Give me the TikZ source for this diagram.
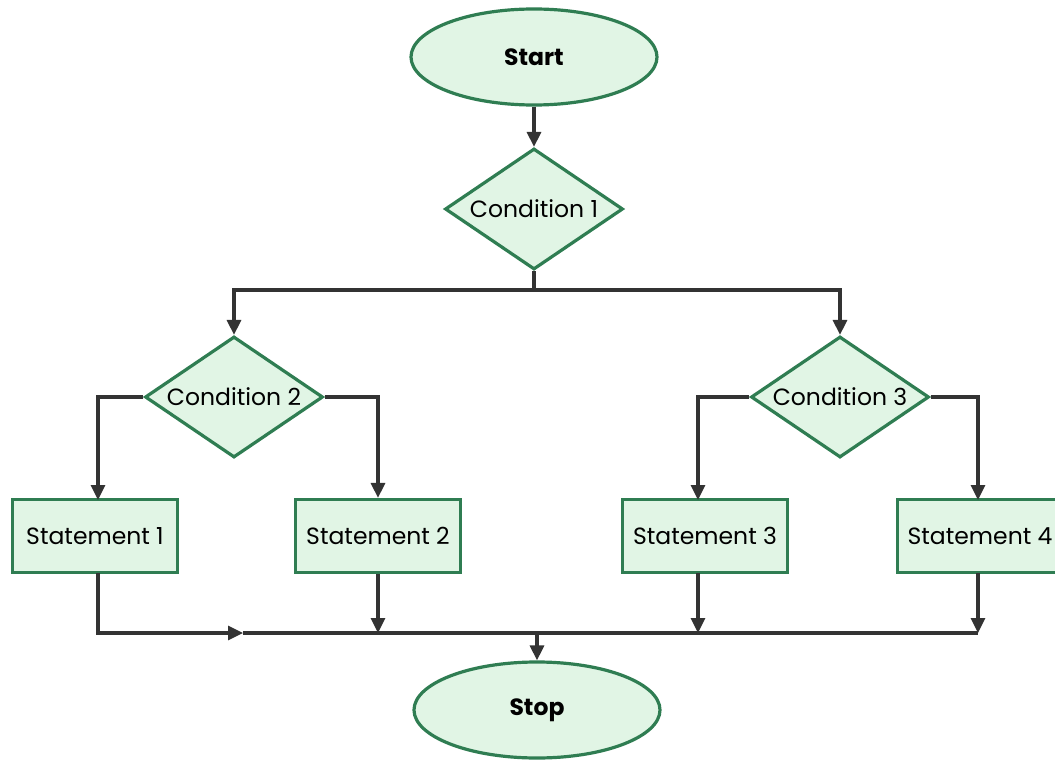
\documentclass[tikz,border=0pt]{standalone}
\usepackage{fontspec}
\setmainfont{Poppins}
\usetikzlibrary{shapes.geometric,arrows.meta}
\definecolor{bfill}{HTML}{E1F5E5}
\definecolor{bline}{HTML}{2F7D52}
\definecolor{cline}{HTML}{333333}
\tikzset{
  shp/.style={draw=bline,fill=bfill,line width=3.2pt,inner sep=0pt,font=\fontsize{23.5}{28}\selectfont},
  term/.style={shp,ellipse,minimum width=246pt,minimum height=96pt,font=\fontsize{23.5}{28}\selectfont\bfseries},
  cond/.style={shp,diamond,minimum width=178pt,minimum height=121pt,
    label={[font=\fontsize{23.5}{28}\selectfont]center:#1}},
  stmt/.style={shp,rectangle,minimum width=165pt,minimum height=73pt},
  conn/.style={draw=cline,line width=3.2pt},
  arr/.style={conn,-{Triangle[length=15pt,width=14pt]}}
}
\begin{document}
\begin{tikzpicture}[x=1pt,y=-1pt]
\useasboundingbox[fill=white] (0,0) rectangle (1055,762);
\node[term] (start) at (534,57) {Start};
\node[cond={Condition 1}] (c1) at (534,209) {};
\node[cond={Condition 2}] (c2) at (234,397) {};
\node[cond={Condition 3}] (c3) at (840,397) {};
\node[stmt] (s1) at (95,536) {Statement 1};
\node[stmt] (s2) at (378,536) {Statement 2};
\node[stmt] (s3) at (705,536) {Statement 3};
\node[stmt] (s4) at (980,536) {Statement 4};
\node[term] (stop) at (537,710) {Stop};
\coordinate (b1) at (534,290);
\coordinate (j1) at (98,633);
\coordinate (jm) at (243,633);
\coordinate (j4) at (978,633);
\coordinate (js) at (537,633);
\draw[arr] (start) -- (c1);
\draw[conn] (c1.south) -- (b1);
\draw[arr] (b1) -| (c2.north);
\draw[arr] (b1) -| (c3.north);
\draw[arr] (c2.west) -| (98,500);
\draw[arr] (c2.east) -| (s2.north);
\draw[arr] (c3.west) -| (698,500);
\draw[arr] (c3.east) -| (978,500);
\draw[arr] (98,573) |- (jm);
\draw[conn] (jm) -- (j4);
\draw[arr] (s2.south) -- (s2.south |- j1);
\draw[arr] (698,573) -- (698,633);
\draw[arr] (978,573) -- (j4);
\draw[arr] (js) -- (stop.north);
\end{tikzpicture}
\end{document}
